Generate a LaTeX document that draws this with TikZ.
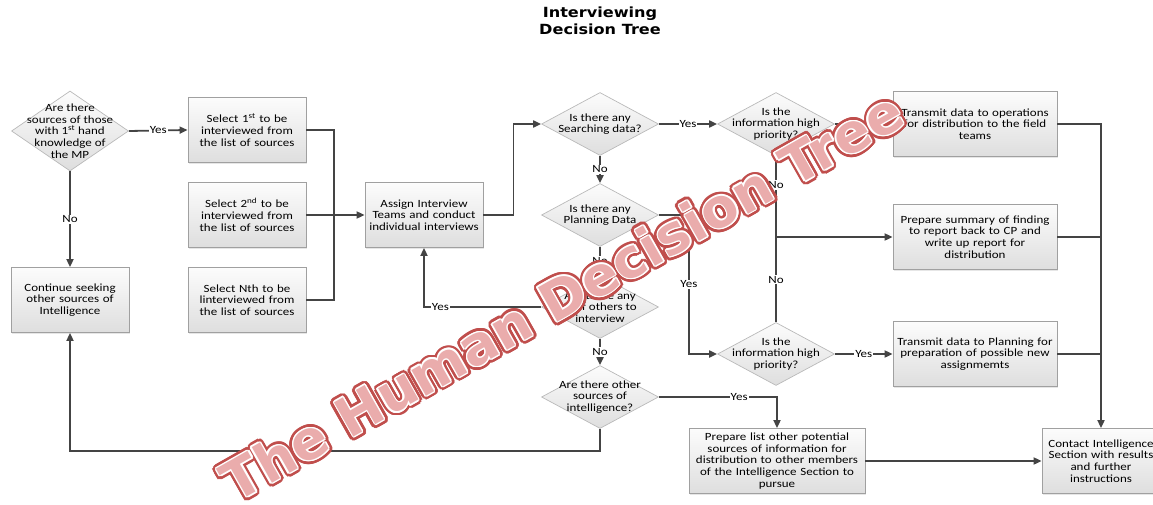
\documentclass[tikz,border=0pt]{standalone}
\usepackage{fontspec}
\setmainfont{Carlito}[FakeStretch=1.18]
\newfontfamily\titlefont{DejaVu Sans}[FakeStretch=1.15]
\newfontfamily\markfont{DejaVu Sans}
\usepackage{tikz}
\usetikzlibrary{shapes.geometric, arrows.meta, positioning, calc, shadows}
\definecolor{flowline}{RGB}{68,68,68}
\definecolor{boxline}{RGB}{160,160,160}
\definecolor{dialine}{RGB}{185,185,185}
\definecolor{boxtop}{RGB}{252,252,252}
\definecolor{boxbot}{RGB}{222,222,222}
\definecolor{markred}{RGB}{192,78,76}
\definecolor{markpink}{RGB}{234,172,172}
\newcommand{\boxfont}{\fontsize{11}{11.7}\selectfont}
\tikzset{
  box/.style={rectangle, draw=boxline, top color=boxtop, bottom color=boxbot,
    minimum width=118pt, minimum height=65pt, text width=114pt, align=center,
    font=\boxfont, inner sep=1pt, line width=0.8pt,
    drop shadow={shadow xshift=1.2pt, shadow yshift=-1.2pt, opacity=0.2}},
  widebox/.style={box, minimum width=164pt, text width=160pt},
  decision/.style={diamond, draw=dialine, top color=boxtop, bottom color=boxbot,
    minimum width=117pt, minimum height=63pt, inner sep=0pt, line width=0.7pt},
  qtext/.style={align=center, font=\boxfont, inner sep=0pt},
  arrow/.style={-{Triangle[length=8pt,width=7pt]}, line width=1.8pt, color=flowline},
  line/.style={line width=1.8pt, color=flowline},
  lbl/.style={fill=white, inner sep=1pt, font=\boxfont, text=black},
  wmark/.style={font=\markfont\bfseries\fontsize{54}{54}\selectfont, rotate=29.5, inner sep=0pt}
}

\begin{document}
\begin{tikzpicture}[x=1pt, y=-1pt]
  \useasboundingbox (0,0) rectangle (1153,505);

  % Title
  \node[font=\titlefont\bfseries\fontsize{14}{16.5}\selectfont, align=center] (title) at (600,21) {Interviewing\\Decision Tree};

  % Left column
  \node[decision, minimum height=80pt, label={[qtext]center:{Are there\\sources of those\\with 1\textsuperscript{st} hand\\knowledge of\\the MP}}] (first) at (70,131) {};
  \node[box] (cont) at (70,300) {Continue seeking\\other sources of\\Intelligence};

  % Source selection
  \node[box] (sel1) at (247,130) {Select 1\textsuperscript{st} to be\\interviewed from\\the list of sources};
  \node[box] (sel2) at (247,215) {Select 2\textsuperscript{nd} to be\\interviewed from\\the list of sources};
  \node[box] (seln) at (247,300) {Select Nth to be\\linterviewed from\\the list of sources};
  \coordinate (merge) at (334,215);

  \node[box] (assign) at (424,215) {Assign Interview\\Teams and conduct\\individual interviews};

  % Middle column of questions
  \node[decision, label={[qtext]center:{Is there any\\Searching data?}}] (search) at (600,124) {};
  \node[decision, label={[qtext]center:{Is there any\\Planning Data}}] (plan) at (600,215) {};
  \node[decision, label={[qtext]center:{Are there any\\staff others to\\interview}}] (others) at (600,307) {};
  \node[decision, label={[qtext]center:{Are there other\\sources of\\intelligence?}}] (moresrc) at (600,397) {};

  % Priority questions
  \node[decision, label={[qtext]center:{Is the\\information high\\priority?}}] (prio1) at (776,124) {};
  \node[decision, label={[qtext]center:{Is the\\information high\\priority?}}] (prio2) at (776,354) {};
  \coordinate (join) at (776,237);

  % Right column
  \node[widebox] (ops) at (975,124) {Transmit data to operations\\for distribution to the field\\teams};
  \node[widebox] (summary) at (975,237) {Prepare summary of finding\\to report back to CP and\\write up report for\\distribution};
  \node[widebox] (planning) at (975,354) {Transmit data to Planning for\\preparation of possible new\\assignmemts};
  \node[box, minimum width=176pt, text width=172pt] (list) at (777,461) {Prepare list other potential\\sources of information for\\distribution to other members\\of the Intelligence Section to\\pursue};
  \node[box] (contact) at (1101,461) {Contact Intelligence\\Section with results\\and further\\instructions};

  % Connectors
  \draw[arrow] (first.east) -- (sel1.west) node[lbl, midway] {Yes};
  \draw[arrow] (first.south) -- (cont.north) node[lbl, midway] {No};
  \draw[line] (sel1.east) -| (merge);
  \draw[line] (seln.east) -| (merge);
  \draw[arrow] (sel2.east) -- (assign.west);
  \draw[arrow] (assign.east) -- ++(30,0) |- (search.west);

  \draw[arrow] (search.east) -- (prio1.west) node[lbl, midway] {Yes};
  \draw[arrow] (search.south) -- (plan.north) node[lbl, midway] {No};
  \draw[arrow] (plan.east) -- ++(30,0) |- (prio2.west) node[lbl, pos=0.25] {Yes};
  \draw[arrow] (plan.south) -- (others.north) node[lbl, midway] {No};
  \draw[arrow] (others.west) -| (assign.south) node[lbl, pos=0.43] {Yes};
  \draw[arrow] (others.south) -- (moresrc.north) node[lbl, midway] {No};
  \draw[arrow] (moresrc.east) -| (list.north) node[lbl, pos=0.34] {Yes};
  \draw[arrow] (moresrc.south) -- ++(0,22) -| (cont.south) node[lbl, pos=0.32] {No};

  \draw[arrow] (prio1.east) -- (ops.west);
  \draw[line] (prio1.south) -- (join) node[lbl, pos=0.36] {No};
  \draw[line] (prio2.north) -- (join) node[lbl, pos=0.5] {No};
  \draw[arrow] (join) -- (summary.west);
  \draw[arrow] (prio2.east) -- (planning.west) node[lbl, midway] {Yes};

  \draw[arrow] (ops.east) -| (contact.north);
  \draw[line] (summary.east) -- (summary.east -| contact.north);
  \draw[line] (planning.east) -- (planning.east -| contact.north);
  \draw[arrow] (list.east) -- (contact.west);

  % Watermark
  \coordinate (markc) at (562,296);
  \foreach \a in {0,15,...,345}
    \node[wmark, text=markred] at ($(markc)+(\a:4pt)$) {The Human Decision Tree};
  \foreach \a in {0,30,...,330}
    \node[wmark, text=white] at ($(markc)+(\a:1.3pt)$) {The Human Decision Tree};
  \node[wmark, text=markpink] (mark) at (markc) {The Human Decision Tree};
\end{tikzpicture}
\end{document}
